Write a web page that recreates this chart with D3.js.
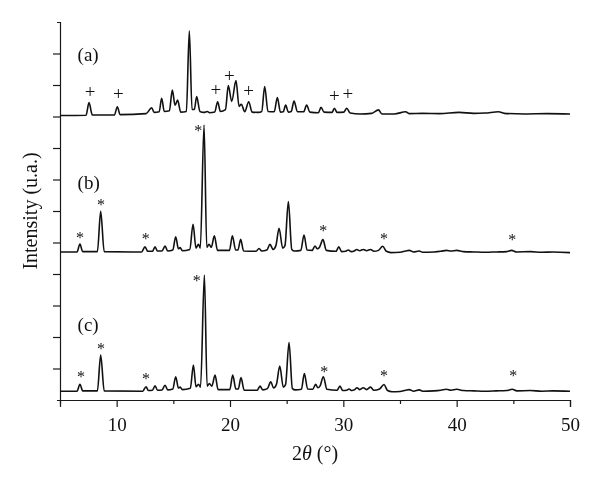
<!DOCTYPE html>
<html>
<head>
<meta charset="utf-8">
<script src="https://cdn.jsdelivr.net/npm/d3@7"></script>
<style>
  body { margin: 0; background: #fff; }
  svg { display: block; font-family: "Liberation Serif", "Times New Roman", serif; will-change: transform; }
  .axis path, .axis line { stroke: #1a1a1a; stroke-width: 1.2; }
  .axis text { font-size: 19px; fill: #111; font-family: "Liberation Serif", "Times New Roman", serif; }
  .pattern { fill: none; stroke: #111; stroke-width: 1.6; stroke-linejoin: round; }
  .mark { fill: #111; }
</style>
</head>
<body>
<svg id="chart" width="600" height="483"></svg>
<script>
// diffractograms, [2theta, intensity above own baseline]
var patternA = [
  [5, -0.03], [7.3, -0.02], [7.56, 0.38], [7.85, -0.01], [9.8, -0.01], [10.06, 0.25], [10.3, 0.0],
  [12.6, 0.03], [13.09, 0.22], [13.3, 0.07], [13.75, 0.09], [13.97, 0.52], [14.2, 0.1], [14.65, 0.12],
  [14.91, 0.78], [15.15, 0.3], [15.38, 0.46], [15.65, 0.08], [16.15, 0.1], [16.41, 2.66], [16.65, 0.16],
  [16.85, 0.16], [17.06, 0.57], [17.35, 0.1], [17.7, 0.07], [18.0, 0.1], [18.2, 0.06], [18.65, 0.08],
  [18.91, 0.41], [19.15, 0.1], [19.6, 0.16], [19.85, 0.92], [20.15, 0.42], [20.53, 1.08], [20.8, 0.26],
  [21.0, 0.33], [21.3, 0.09], [21.65, 0.41], [21.95, 0.08], [22.5, 0.07], [22.8, 0.1], [23.06, 0.89],
  [23.35, 0.1], [23.9, 0.09], [24.18, 0.54], [24.45, 0.08], [24.7, 0.09], [24.91, 0.3], [25.15, 0.08],
  [25.4, 0.1], [25.65, 0.43], [25.95, 0.09], [26.5, 0.09], [26.76, 0.3], [27.05, 0.08], [27.8, 0.06],
  [28.03, 0.23], [28.3, 0.08], [29.0, 0.07], [29.21, 0.2], [29.45, 0.07], [30.05, 0.08], [30.3, 0.2],
  [30.6, 0.05], [31.5, 0.02], [32.5, 0.04], [33.1, 0.15], [33.4, 0.02], [34.5, 0.02], [35.5, 0.09],
  [35.8, 0.03], [37.0, 0.04], [38.5, 0.03], [40.2, 0.07], [41.5, 0.04], [42.5, 0.05], [43.7, 0.09],
  [44.2, 0.04], [46.0, 0.02], [48.0, 0.03], [50, 0.02]
];
var patternB = [
  [5, 0.0], [6.5, 0.0], [6.76, 0.25], [7.0, 0.01], [8.3, 0.01], [8.59, 1.29], [8.9, 0.01], [12.2, 0.0],
  [12.5, 0.16], [12.75, 0.02], [13.15, 0.02], [13.39, 0.16], [13.6, 0.03], [14.0, 0.03], [14.27, 0.19],
  [14.5, 0.03], [14.95, 0.06], [15.21, 0.48], [15.45, 0.1], [15.6, 0.14], [15.8, 0.04], [16.45, 0.08],
  [16.74, 0.88], [17.0, 0.12], [17.21, 0.24], [17.38, 0.12], [17.71, 4.03], [17.95, 0.15], [18.15, 0.24],
  [18.35, 0.15], [18.62, 0.51], [18.9, 0.05], [19.95, 0.05], [20.21, 0.51], [20.5, 0.06], [20.7, 0.06],
  [20.94, 0.4], [21.2, 0.03], [22.3, 0.02], [22.56, 0.11], [22.8, 0.03], [23.25, 0.06], [23.53, 0.24],
  [23.8, 0.08], [24.05, 0.2], [24.33, 0.75], [24.65, 0.12], [24.85, 0.2], [25.15, 1.6], [25.45, 0.08],
  [25.7, 0.03], [26.25, 0.05], [26.53, 0.54], [26.8, 0.06], [27.25, 0.05], [27.5, 0.19], [27.7, 0.1],
  [27.9, 0.15], [28.2, 0.39], [28.5, 0.05], [29.35, 0.02], [29.6, 0.16], [29.85, 0.01], [30.2, 0.02],
  [30.44, 0.06], [30.7, 0.01], [31.0, 0.04], [31.18, 0.08], [31.45, 0.04], [31.76, 0.08], [32.05, 0.04],
  [32.41, 0.08], [32.7, 0.02], [33.1, 0.05], [33.47, 0.18], [33.8, 0.02], [34.2, -0.02], [35.0, -0.01],
  [35.5, 0.03], [35.82, 0.05], [36.2, 0.0], [36.7, 0.03], [37.0, -0.01], [38.0, 0.0], [38.6, 0.02],
  [39.1, 0.05], [39.5, 0.03], [40.0, 0.05], [40.6, 0.01], [41.5, 0.0], [42.5, -0.01], [43.5, 0.0],
  [44.4, 0.01], [44.85, 0.05], [45.3, 0.0], [46.5, 0.01], [47.5, -0.01], [48.5, 0.0], [50, -0.02]
];
var patternC = [
  [5, 0.0], [6.5, 0.0], [6.76, 0.22], [7.0, 0.01], [8.3, 0.01], [8.59, 1.15], [8.9, 0.01], [12.3, 0.0],
  [12.59, 0.14], [12.8, 0.02], [13.15, 0.03], [13.39, 0.17], [13.6, 0.03], [14.0, 0.04], [14.27, 0.19],
  [14.5, 0.04], [14.95, 0.07], [15.21, 0.46], [15.45, 0.1], [15.6, 0.13], [15.8, 0.05], [16.5, 0.09],
  [16.77, 0.83], [17.0, 0.14], [17.22, 0.22], [17.4, 0.13], [17.74, 3.69], [17.98, 0.16], [18.18, 0.24],
  [18.4, 0.16], [18.68, 0.51], [18.95, 0.05], [19.98, 0.05], [20.24, 0.51], [20.52, 0.07], [20.73, 0.07],
  [20.97, 0.43], [21.25, 0.03], [22.4, 0.03], [22.65, 0.16], [22.9, 0.04], [23.3, 0.08], [23.59, 0.3],
  [23.85, 0.1], [24.1, 0.22], [24.39, 0.8], [24.7, 0.13], [24.9, 0.21], [25.21, 1.54], [25.5, 0.09],
  [25.75, 0.04], [26.3, 0.06], [26.56, 0.56], [26.85, 0.07], [27.3, 0.06], [27.56, 0.22], [27.75, 0.11],
  [27.95, 0.17], [28.24, 0.46], [28.55, 0.06], [29.45, 0.03], [29.7, 0.16], [29.95, 0.02], [30.3, 0.03],
  [30.5, 0.07], [30.75, 0.02], [31.0, 0.05], [31.2, 0.11], [31.45, 0.05], [31.76, 0.11], [32.05, 0.05],
  [32.4, 0.13], [32.7, 0.03], [33.2, 0.07], [33.59, 0.21], [33.9, 0.02], [34.3, -0.02], [35.0, -0.01],
  [35.5, 0.03], [35.82, 0.05], [36.2, 0.0], [36.7, 0.04], [37.0, 0.0], [38.0, 0.01], [38.6, 0.03],
  [39.1, 0.06], [39.5, 0.03], [40.0, 0.06], [40.6, 0.02], [41.5, 0.01], [42.5, 0.0], [43.5, 0.01],
  [44.4, 0.02], [44.9, 0.06], [45.3, 0.01], [46.5, 0.02], [47.5, 0.0], [48.5, 0.01], [50, 0.0]
];

// vertical shift of each curve in the stack
var offsetA = 9.06, offsetB = 4.70, offsetC = 0.28;

// "+" peaks in (a), "*" peaks in (b) and (c): [2theta, height above baseline]
var plusA = [[7.65, 0.70], [10.14, 0.63], [18.76, 0.76], [19.94, 1.23], [21.65, 0.74], [29.2, 0.59], [30.39, 0.63]];
var starB = [[6.76, 0.54], [8.62, 1.57], [12.56, 0.52], [17.2, 3.93], [28.23, 0.75], [33.59, 0.52], [44.91, 0.49]];
var starC = [[6.85, 0.54], [8.62, 1.43], [12.59, 0.49], [17.06, 3.59], [28.32, 0.70], [33.59, 0.57], [45.0, 0.57]];

var panelLabels = ["(a)", "(b)", "(c)"];
var xTicks = [10, 20, 30, 40, 50];
var xMinorTicks = [5, 15, 25, 35, 45];
var yTicks = [1, 2, 3, 4, 5, 6, 7, 8, 9, 10, 11];

var svg = d3.select("#chart"),
    margin = {top: 22, right: 30, bottom: 83, left: 60},
    width = +svg.attr("width") - margin.left - margin.right,
    height = +svg.attr("height") - margin.top - margin.bottom;

var x = d3.scaleLinear().domain([5, 50]).range([margin.left, margin.left + width]);
var y = d3.scaleLinear().domain([0, 12]).range([margin.top + height, margin.top]);

// axes
svg.append("g")
    .attr("class", "axis")
    .attr("transform", "translate(0," + y(0) + ")")
    .call(d3.axisBottom(x).tickValues(xTicks).tickSize(7).tickSizeOuter(7).tickPadding(11));

svg.append("g")
    .attr("class", "axis")
    .attr("transform", "translate(0," + y(0) + ")")
    .call(d3.axisBottom(x).tickValues(xMinorTicks).tickSize(4).tickFormat(""))
    .select(".domain").remove();

svg.append("g")
    .attr("class", "axis")
    .attr("transform", "translate(" + x(5) + ",0)")
    .call(d3.axisLeft(y).tickValues(yTicks).tickSize(7).tickSizeOuter(3).tickFormat(""));

// curves
var series = [
  {data: patternA, off: offsetA},
  {data: patternB, off: offsetB},
  {data: patternC, off: offsetC}
];

series.forEach(function(s) {
  var line = d3.line()
    .x(function(d) { return x(d[0]); })
    .y(function(d) { return y(d[1] + s.off); })
    .curve(d3.curveMonotoneX);
  svg.append("path")
    .datum(s.data)
    .attr("class", "pattern")
    .attr("d", line);
});

// peak markers
svg.selectAll(".plus")
  .data(plusA)
  .enter().append("text")
    .attr("class", "mark")
    .attr("x", function(d) { return x(d[0]); })
    .attr("y", function(d) { return y(d[1] + offsetA); })
    .attr("dy", "0.3em")
    .attr("text-anchor", "middle")
    .style("font-size", "19px")
    .text("+");

[{data: starB, off: offsetB}, {data: starC, off: offsetC}].forEach(function(s) {
  svg.selectAll(null)
    .data(s.data)
    .enter().append("text")
      .attr("class", "mark")
      .attr("x", function(d) { return x(d[0]); })
      .attr("y", function(d) { return y(d[1] + s.off); })
      .attr("dy", "0.5em")
      .attr("text-anchor", "middle")
      .style("font-size", "16px")
      .text("*");
});

// (a) (b) (c)
var labelY = [10.97, 6.90, 2.40];
svg.selectAll(".panel")
  .data(panelLabels)
  .enter().append("text")
    .attr("x", x(6.55))
    .attr("y", function(d, i) { return y(labelY[i]); })
    .attr("dy", "0.33em")
    .style("font-size", "19px")
    .style("fill", "#111")
    .text(function(d) { return d; });

// axis titles
var xt = svg.append("text")
    .attr("x", (x(5) + x(50)) / 2)
    .attr("y", 460)
    .attr("text-anchor", "middle")
    .style("font-size", "20px")
    .style("fill", "#111");
xt.append("tspan").text("2");
xt.append("tspan").style("font-style", "italic").text("θ");
xt.append("tspan").text(" (°)");

svg.append("text")
    .attr("transform", "translate(37," + ((y(0) + y(12)) / 2) + ") rotate(-90)")
    .attr("text-anchor", "middle")
    .style("font-size", "20px")
    .style("fill", "#111")
    .text("Intensity (u.a.)");
</script>
</body>
</html>
